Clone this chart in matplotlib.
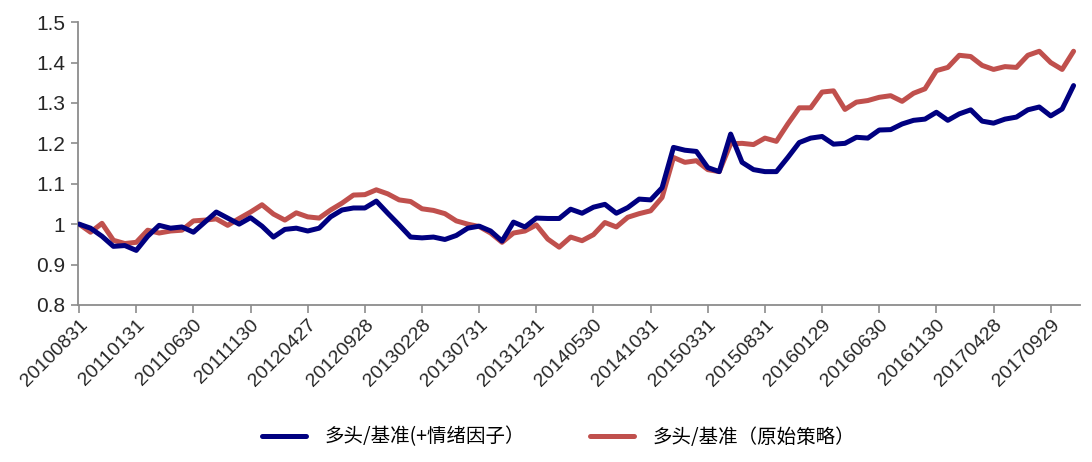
import numpy as np
import matplotlib
matplotlib.use("Agg")
import matplotlib.pyplot as plt

plt.rcParams['font.family'] = ['Liberation Sans', 'Noto Sans CJK SC', 'DejaVu Sans']

# month-end trading days
dates = [
    "20100831", "20100930", "20101029", "20101130", "20101231",
    "20110131", "20110228", "20110331", "20110429", "20110531", "20110630",
    "20110729", "20110831", "20110930", "20111031", "20111130", "20111230",
    "20120131", "20120229", "20120330", "20120427", "20120531", "20120629",
    "20120731", "20120831", "20120928", "20121031", "20121130", "20121231",
    "20130131", "20130228", "20130329", "20130426", "20130531", "20130628",
    "20130731", "20130830", "20130930", "20131031", "20131129", "20131231",
    "20140130", "20140228", "20140331", "20140430", "20140530", "20140630",
    "20140731", "20140829", "20140930", "20141031", "20141128", "20141231",
    "20150130", "20150227", "20150331", "20150430", "20150529", "20150630",
    "20150731", "20150831", "20150930", "20151030", "20151130", "20151231",
    "20160129", "20160229", "20160331", "20160429", "20160531", "20160630",
    "20160729", "20160831", "20160930", "20161031", "20161130", "20161230",
    "20170126", "20170228", "20170331", "20170428", "20170531", "20170630",
    "20170731", "20170831", "20170929", "20171031", "20171130",
]

# long / benchmark with sentiment factor
with_sentiment = [
    1.000, 0.990, 0.970, 0.945, 0.947, 0.935, 0.970, 0.997, 0.990, 0.993,
    0.980, 1.005, 1.030, 1.015, 1.000, 1.016, 0.995, 0.968, 0.987, 0.990,
    0.983, 0.990, 1.018, 1.035, 1.040, 1.040, 1.057, 1.027, 0.998, 0.968,
    0.966, 0.968, 0.962, 0.972, 0.990, 0.995, 0.983, 0.958, 1.005, 0.993,
    1.015, 1.014, 1.014, 1.037, 1.027, 1.042, 1.049, 1.027, 1.041, 1.062,
    1.060, 1.090, 1.190, 1.183, 1.180, 1.140, 1.130, 1.223, 1.153, 1.135,
    1.130, 1.130, 1.165, 1.202, 1.213, 1.217, 1.198, 1.200, 1.215, 1.213,
    1.233, 1.234, 1.248, 1.257, 1.260, 1.277, 1.257, 1.273, 1.283, 1.255,
    1.250, 1.260, 1.265, 1.283, 1.290, 1.268, 1.285, 1.343,
]

# long / benchmark, original strategy
original = [
    1.000, 0.980, 1.002, 0.960, 0.952, 0.955, 0.985, 0.978, 0.983, 0.985,
    1.008, 1.010, 1.013, 0.997, 1.014, 1.030, 1.048, 1.025, 1.010, 1.028,
    1.018, 1.015, 1.035, 1.052, 1.072, 1.073, 1.085, 1.075, 1.060, 1.056,
    1.038, 1.034, 1.026, 1.008, 1.000, 0.994, 0.978, 0.955, 0.978, 0.983,
    0.998, 0.963, 0.943, 0.968, 0.959, 0.974, 1.004, 0.993, 1.017, 1.026,
    1.033, 1.066, 1.165, 1.153, 1.157, 1.135, 1.130, 1.199, 1.200, 1.197,
    1.213, 1.205, 1.248, 1.288, 1.288, 1.327, 1.330, 1.284, 1.302, 1.306,
    1.314, 1.318, 1.304, 1.324, 1.335, 1.380, 1.388, 1.418, 1.415, 1.393,
    1.383, 1.390, 1.388, 1.418, 1.428, 1.400, 1.383, 1.428,
]

series_names = ["多头/基准(+情绪因子）", "多头/基准（原始策略）"]
yticks = [0.8, 0.9, 1.0, 1.1, 1.2, 1.3, 1.4, 1.5]
ytick_labels = ["0.8", "0.9", "1", "1.1", "1.2", "1.3", "1.4", "1.5"]

x = np.arange(len(dates))

fig = plt.figure(figsize=(10.92, 4.62), dpi=100)
ax = fig.add_axes([0.0714, 0.340, 0.918, 0.612])

ax.plot(x, with_sentiment, color="#000080", lw=3.6, solid_capstyle="round",
        label=series_names[0], zorder=3)
ax.plot(x, original, color="#C0504D", lw=3.6, solid_capstyle="round",
        label=series_names[1], zorder=2)

ax.set_ylim(0.8, 1.5)
ax.set_xlim(-0.1, 87.6)
ax.set_yticks(yticks)
ax.set_yticklabels(ytick_labels)
ax.set_xticks(x[::5])
ax.set_xticklabels(dates[::5], rotation=45, ha="right", va="top",
                   rotation_mode="anchor")

for s in ["top", "right"]:
    ax.spines[s].set_visible(False)
for s in ["left", "bottom"]:
    ax.spines[s].set_color("#8c8c8c")
    ax.spines[s].set_linewidth(1.3)

ax.tick_params(axis="y", direction="out", length=5, width=1.2,
               color="#8c8c8c", labelsize=15, labelcolor="#262626", pad=4)
ax.tick_params(axis="x", direction="out", length=6, width=1.2,
               color="#8c8c8c", labelsize=14, labelcolor="#262626", pad=2)

fig.legend(loc="center", bbox_to_anchor=(0.5115, 0.054), ncol=2,
           frameon=False, handlelength=2.3, handletextpad=0.95,
           columnspacing=3.3,
           prop={"family": ["Noto Sans CJK SC", "DejaVu Sans"], "size": 14})

fig.savefig("out.png", dpi=100)
